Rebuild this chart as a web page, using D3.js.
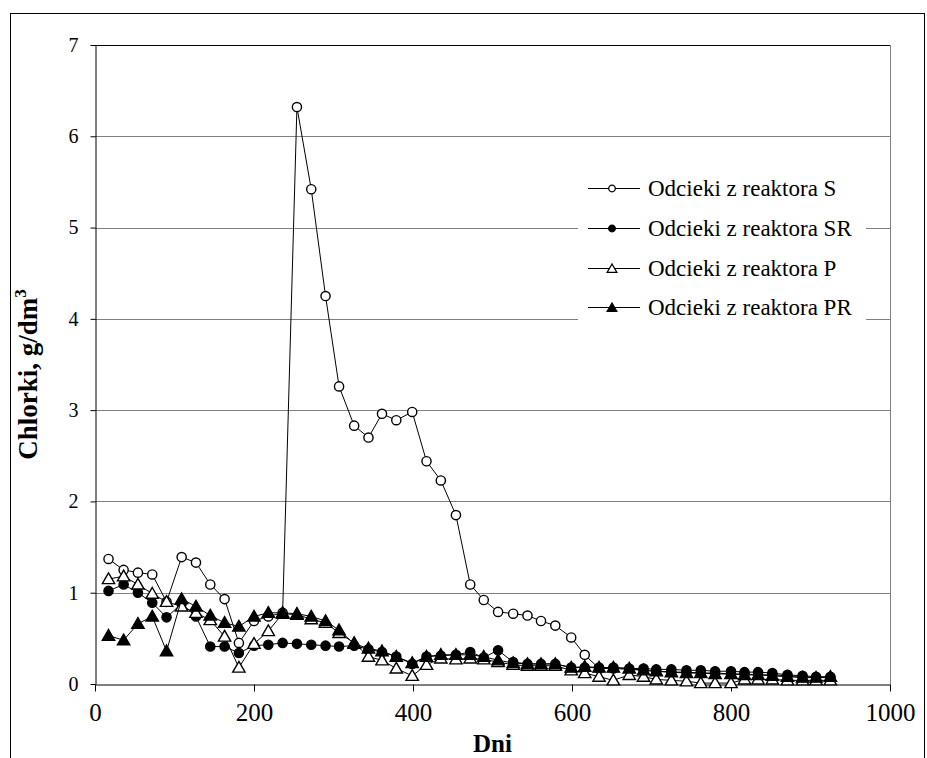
<!DOCTYPE html>
<html>
<head>
<meta charset="utf-8">
<script src="https://cdn.jsdelivr.net/npm/d3@7/dist/d3.min.js"></script>
<style>
  html, body { margin: 0; padding: 0; background: #fff; }
  svg { display: block; }
</style>
</head>
<body>
<svg id="chart" width="927" height="758" font-family="Liberation Serif, Times New Roman, serif"></svg>
<script>
// Sampling days (Dni)
const days = [17, 36, 54, 72, 90, 109, 127, 145, 163, 181, 200, 218, 236, 254, 272, 290, 307, 326, 344, 361,
  379, 399, 417, 435, 454, 472, 489, 507, 526, 544, 561, 579, 599, 616, 634, 652, 672, 690, 706, 725,
  744, 762, 780, 800, 817, 834, 852, 871, 890, 907, 925];

// Chloride concentration in leachate, g/dm3
const seriesS = [1.37, 1.25, 1.22, 1.20, 0.90, 1.39, 1.33, 1.09, 0.93, 0.45, 0.69, 0.74, 0.78, 6.32, 5.42, 4.25, 3.26, 2.83, 2.70, 2.96,
  2.89, 2.98, 2.44, 2.23, 1.85, 1.09, 0.92, 0.79, 0.77, 0.75, 0.69, 0.64, 0.51, 0.32, 0.17, 0.17, 0.16, 0.15, 0.14, 0.13,
  0.13, 0.12, 0.12, 0.11, 0.11, 0.10, 0.10, 0.09, 0.08, 0.07, 0.07];
const seriesSR = [1.02, 1.09, 1.00, 0.89, 0.73, 0.88, 0.74, 0.41, 0.41, 0.34, 0.42, 0.43, 0.45, 0.44, 0.43, 0.42, 0.41, 0.42, 0.38, 0.35,
  0.30, 0.22, 0.30, 0.31, 0.32, 0.35, 0.29, 0.37, 0.24, 0.22, 0.22, 0.22, 0.18, 0.18, 0.18, 0.18, 0.17, 0.17, 0.16, 0.16,
  0.15, 0.15, 0.14, 0.14, 0.13, 0.13, 0.12, 0.10, 0.09, 0.08, 0.08];
const seriesP = [1.15, 1.18, 1.09, 0.99, 0.90, 0.85, 0.78, 0.70, 0.52, 0.18, 0.44, 0.58, 0.77, 0.76, 0.71, 0.67, 0.56, 0.45, 0.30, 0.26,
  0.17, 0.09, 0.21, 0.28, 0.27, 0.28, 0.27, 0.24, 0.21, 0.20, 0.20, 0.20, 0.15, 0.12, 0.08, 0.04, 0.10, 0.08, 0.05, 0.04,
  0.03, 0.01, 0.01, 0.01, 0.05, 0.05, 0.05, 0.04, 0.04, 0.04, 0.04];
const seriesPR = [0.53, 0.48, 0.66, 0.74, 0.36, 0.93, 0.85, 0.75, 0.67, 0.63, 0.74, 0.78, 0.78, 0.77, 0.74, 0.69, 0.59, 0.44, 0.39, 0.36,
  0.30, 0.23, 0.30, 0.32, 0.32, 0.32, 0.30, 0.26, 0.23, 0.22, 0.22, 0.22, 0.18, 0.19, 0.18, 0.18, 0.17, 0.15, 0.14, 0.13,
  0.12, 0.12, 0.11, 0.11, 0.10, 0.10, 0.09, 0.08, 0.07, 0.07, 0.08];

const seriesNames = ["Odcieki z reaktora S", "Odcieki z reaktora SR", "Odcieki z reaktora P", "Odcieki z reaktora PR"];
const xTicks = [0, 200, 400, 600, 800, 1000];
const yTicks = [0, 1, 2, 3, 4, 5, 6, 7];

const FONT = "Liberation Serif, Times New Roman, serif";

const series = [
  { name: seriesNames[0], values: seriesS, shape: "circle", fill: "#fff" },
  { name: seriesNames[1], values: seriesSR, shape: "circle", fill: "#000" },
  { name: seriesNames[2], values: seriesP, shape: "triangle", fill: "#fff" },
  { name: seriesNames[3], values: seriesPR, shape: "triangle", fill: "#000" }
];

const svg = d3.select("#chart");

// chart area frame
svg.append("rect")
  .attr("x", 10.5).attr("y", 13.5)
  .attr("width", 914).attr("height", 790)
  .attr("fill", "#fff").attr("stroke", "#000").attr("stroke-width", 1);

const x = d3.scaleLinear().domain([0, 1000]).range([95, 890]);
const y = d3.scaleLinear().domain([0, 7]).range([684, 45]);

// horizontal gridlines
svg.append("g")
  .selectAll("line")
  .data(yTicks.filter(v => v > 0 && v < 7))
  .join("line")
  .attr("x1", x(0)).attr("x2", x(1000))
  .attr("y1", d => Math.round(y(d)) + 0.5).attr("y2", d => Math.round(y(d)) + 0.5)
  .attr("stroke", "#808080").attr("stroke-width", 1);

// plot area top and right edges
svg.append("line")
  .attr("x1", x(0)).attr("x2", x(1000))
  .attr("y1", Math.round(y(7)) + 0.5).attr("y2", Math.round(y(7)) + 0.5)
  .attr("stroke", "#000");
svg.append("line")
  .attr("x1", Math.round(x(1000)) + 0.5).attr("x2", Math.round(x(1000)) + 0.5)
  .attr("y1", y(7)).attr("y2", y(0))
  .attr("stroke", "#808080");

// legend background
const legendG = svg.append("g");
legendG.append("rect")
  .attr("x", 578).attr("y", 168).attr("width", 288).attr("height", 160)
  .attr("fill", "#fff");

// axes
const xAxis = svg.append("g")
  .attr("transform", `translate(0,${Math.round(y(0)) + 0.5})`)
  .call(d3.axisBottom(x).tickValues(xTicks).tickSize(7).tickSizeOuter(0).tickFormat(d3.format("d")));
xAxis.selectAll(".tick text").attr("y", 36).attr("dy", 0).attr("font-size", 25);

const yAxis = svg.append("g")
  .attr("transform", `translate(${Math.round(x(0)) + 0.5},0)`)
  .call(d3.axisLeft(y).tickValues(yTicks).tickSize(5).tickSizeOuter(0).tickPadding(12).tickFormat(d3.format("d")));
yAxis.selectAll(".tick text").attr("font-size", 20);

[xAxis, yAxis].forEach(g => {
  g.attr("font-family", FONT);
  g.select(".domain").attr("stroke", "#000");
  g.selectAll(".tick line").attr("stroke", "#000");
  g.selectAll(".tick text").attr("fill", "#000").attr("font-family", FONT);
});

// axis titles
svg.append("text")
  .attr("x", (x(0) + x(1000)) / 2).attr("y", 752)
  .attr("text-anchor", "middle")
  .attr("font-family", FONT)
  .attr("font-size", 25).attr("font-weight", "bold")
  .text("Dni");

const yTitle = svg.append("text")
  .attr("transform", `translate(37,${(y(0) + y(7)) / 2 + 10}) rotate(-90)`)
  .attr("text-anchor", "middle")
  .attr("font-family", FONT)
  .attr("font-size", 27).attr("font-weight", "bold");
yTitle.append("tspan").text("Chlorki, g/dm");
yTitle.append("tspan").attr("dy", -11).attr("font-size", 17).text("3");

// marker shapes
const circleSym = d3.symbol().type(d3.symbolCircle).size(Math.PI * 4.6 * 4.6);
const triSym = d3.symbol().type(d3.symbolTriangle).size(66);
const markerPath = s => (s === "circle" ? circleSym() : triSym());

const line = d3.line()
  .x((d, i) => x(days[i]))
  .y(d => y(d));

// series: line and markers drawn together, in legend order
series.forEach(s => {
  const g = svg.append("g");
  g.append("path")
    .attr("d", line(s.values))
    .attr("fill", "none").attr("stroke", "#000").attr("stroke-width", 1);
  g.selectAll("path.m")
    .data(s.values)
    .join("path")
    .attr("class", "m")
    .attr("d", markerPath(s.shape))
    .attr("transform", (d, i) => `translate(${x(days[i])},${y(d) + (s.shape === "triangle" ? 1 : 0)})`)
    .attr("fill", s.fill).attr("stroke", "#000").attr("stroke-width", 1.4);
});

// legend entries
const rowY = [188, 228, 268, 307];
series.forEach((s, i) => {
  const row = legendG.append("g").attr("transform", `translate(0,${rowY[i]})`);
  row.append("line")
    .attr("x1", 588).attr("x2", 640).attr("y1", 0.5).attr("y2", 0.5)
    .attr("stroke", "#000");
  row.append("path")
    .attr("d", s.shape === "circle"
      ? d3.symbol().type(d3.symbolCircle).size(Math.PI * 3.3 * 3.3)()
      : d3.symbol().type(d3.symbolTriangle).size(40)())
    .attr("transform", `translate(612,${s.shape === "triangle" ? 1.5 : 0.5})`)
    .attr("fill", s.fill).attr("stroke", "#000").attr("stroke-width", 1.3);
  row.append("text")
    .attr("x", 648).attr("y", 8)
    .attr("font-family", FONT)
    .attr("font-size", 23)
    .text(s.name);
});
</script>
</body>
</html>
